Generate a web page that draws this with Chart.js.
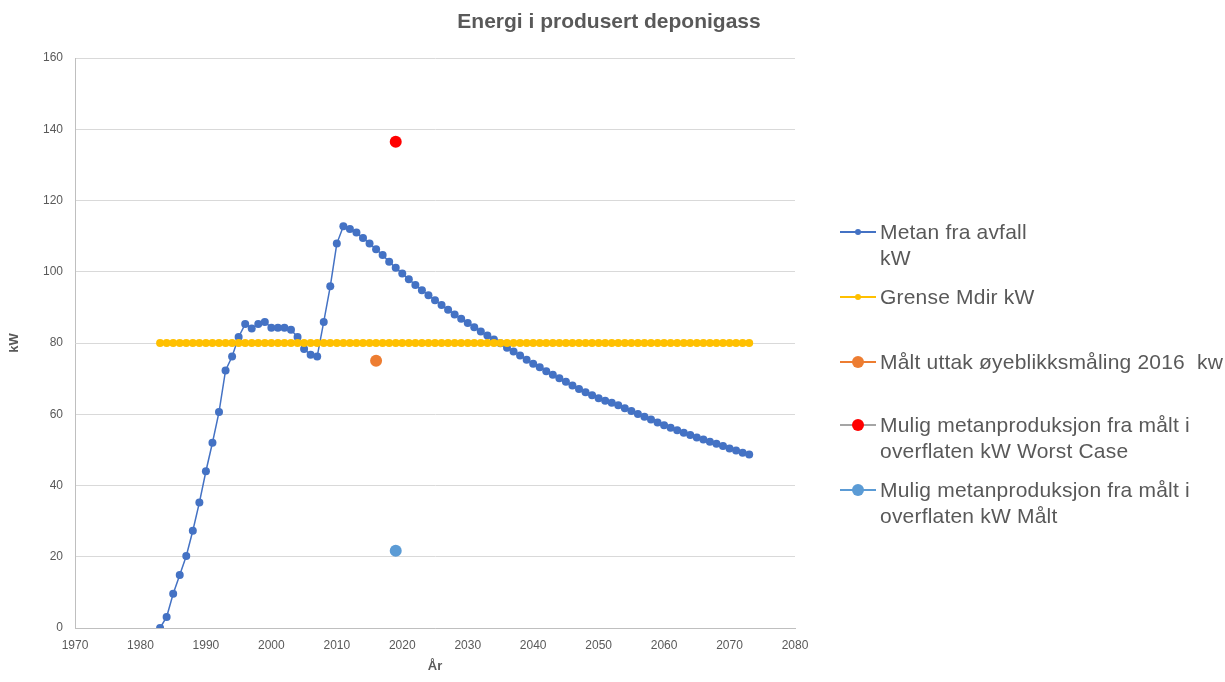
<!DOCTYPE html>
<html>
<head>
<meta charset="utf-8">
<script src="https://cdn.jsdelivr.net/npm/chart.js@4.4.0/dist/chart.umd.min.js"></script>
<style>
    body { margin: 0; background: #fff; }
    #wrap { position: relative; width: 1225px; height: 682px; font-family: 'Liberation Sans', Arial, sans-serif; }
    #title { position: absolute; top: 9px; left: 0; width: 1218px; text-align: center; font-size: 21px; font-weight: bold; color: #595959; }
    #legend { position: absolute; left: 0; top: 0; }
    .item { position: absolute; left: 840px; }
    .item .key { position: absolute; left: 0; top: 12px; width: 36px; height: 2px; }
    .item .dot { position: absolute; border-radius: 50%; }
    .item .txt { position: absolute; left: 40px; top: 0; white-space: pre; font-size: 21px; letter-spacing: 0.2px; line-height: 26px; color: #595959; }
</style>
</head>
<body>
<div id="wrap">
    <canvas id="chart" width="1225" height="682"></canvas>
    <div id="title">Energi i produsert deponigass</div>
    <div id="legend"></div>
</div>
<script>
// years with a value on the curve
const years = [
    1983, 1984, 1985, 1986, 1987, 1988, 1989, 1990, 1991, 1992, 1993, 1994, 1995, 1996, 1997, 1998, 1999,
    2000, 2001, 2002, 2003, 2004, 2005, 2006, 2007, 2008, 2009, 2010, 2011, 2012, 2013, 2014, 2015, 2016,
    2017, 2018, 2019, 2020, 2021, 2022, 2023, 2024, 2025, 2026, 2027, 2028, 2029, 2030, 2031, 2032, 2033,
    2034, 2035, 2036, 2037, 2038, 2039, 2040, 2041, 2042, 2043, 2044, 2045, 2046, 2047, 2048, 2049, 2050,
    2051, 2052, 2053, 2054, 2055, 2056, 2057, 2058, 2059, 2060, 2061, 2062, 2063, 2064, 2065, 2066, 2067,
    2068, 2069, 2070, 2071, 2072, 2073
];

const metanKw = [
    0, 3.1, 9.6, 14.9, 20.2, 27.3, 35.2, 44.0, 52.0, 60.6, 72.3, 76.2, 81.7, 85.3, 84.1, 85.3, 85.9,
    84.3, 84.3, 84.3, 83.7, 81.7, 78.3, 76.7, 76.2, 85.9, 95.9, 107.9, 112.8, 112.0, 111.0, 109.5, 107.9, 106.3,
    104.7, 102.8, 101.1, 99.5, 97.9, 96.3, 94.8, 93.4, 92.0, 90.7, 89.3, 88.0, 86.8, 85.6, 84.4, 83.2, 82.1,
    81.0, 79.9, 78.7, 77.6, 76.5, 75.3, 74.2, 73.2, 72.1, 71.1, 70.1, 69.1, 68.1, 67.1, 66.2, 65.3, 64.5,
    63.8, 63.2, 62.5, 61.7, 60.9, 60.1, 59.3, 58.5, 57.7, 56.9, 56.2, 55.5, 54.8, 54.2, 53.5, 52.9, 52.3,
    51.7, 51.1, 50.4, 49.8, 49.2, 48.7
];

const grenseKw = [
    80, 80, 80, 80, 80, 80, 80, 80, 80, 80, 80, 80, 80, 80, 80, 80, 80,
    80, 80, 80, 80, 80, 80, 80, 80, 80, 80, 80, 80, 80, 80, 80, 80, 80,
    80, 80, 80, 80, 80, 80, 80, 80, 80, 80, 80, 80, 80, 80, 80, 80, 80,
    80, 80, 80, 80, 80, 80, 80, 80, 80, 80, 80, 80, 80, 80, 80, 80, 80,
    80, 80, 80, 80, 80, 80, 80, 80, 80, 80, 80, 80, 80, 80, 80, 80, 80,
    80, 80, 80, 80, 80, 80
];

// single measurements
const maltUttak = { year: 2016, kw: 75.0 };
const worstCase = { year: 2019, kw: 136.5 };
const maltOverflate = { year: 2019, kw: 21.7 };

const labels = [
    'Metan fra avfall\nkW',
    'Grense Mdir kW',
    'Målt uttak øyeblikksmåling 2016  kw',
    'Mulig metanproduksjon fra målt i\noverflaten kW Worst Case',
    'Mulig metanproduksjon fra målt i\noverflaten kW Målt'
];

const xTicks = [1970, 1980, 1990, 2000, 2010, 2020, 2030, 2040, 2050, 2060, 2070, 2080];
const yTicks = [0, 20, 40, 60, 80, 100, 120, 140, 160];

const colors = ['#4472C4', '#FFC000', '#ED7D31', '#FF0000', '#5B9BD5'];
const keyLines = ['#4472C4', '#FFC000', '#ED7D31', '#A5A5A5', '#5B9BD5'];
const legendTop = [219, 284, 349, 412, 477];

const pts = (xs, ys) => xs.map((x, i) => ({ x: x, y: ys[i] }));

const ctx = document.getElementById('chart').getContext('2d');
new Chart(ctx, {
    type: 'line',
    data: {
        datasets: [
            { label: labels[0], data: pts(years, metanKw), borderColor: colors[0], backgroundColor: colors[0],
              borderWidth: 1.5, pointRadius: 4, pointBorderWidth: 0, order: 3 },
            { label: labels[1], data: pts(years, grenseKw), borderColor: colors[1], backgroundColor: colors[1],
              borderWidth: 1.5, pointRadius: 4, pointBorderWidth: 0, order: 2 },
            { label: labels[2], data: [{ x: maltUttak.year, y: maltUttak.kw }], borderColor: colors[2], backgroundColor: colors[2],
              pointRadius: 6, pointBorderWidth: 0, order: 1 },
            { label: labels[3], data: [{ x: worstCase.year, y: worstCase.kw }], borderColor: colors[3], backgroundColor: colors[3],
              pointRadius: 6, pointBorderWidth: 0, order: 1 },
            { label: labels[4], data: [{ x: maltOverflate.year, y: maltOverflate.kw }], borderColor: colors[4], backgroundColor: colors[4],
              pointRadius: 6, pointBorderWidth: 0, order: 1 }
        ]
    },
    options: {
        responsive: false,
        animation: false,
        layout: { padding: { left: 0, top: 58, right: 430, bottom: 0 } },
        plugins: { legend: { display: false }, tooltip: { enabled: false } },
        scales: {
            x: {
                type: 'linear', min: xTicks[0], max: xTicks[xTicks.length - 1],
                afterBuildTicks: s => { s.ticks = xTicks.map(v => ({ value: v })); },
                afterFit: s => { s.height = 54; },
                ticks: { color: '#595959', font: { family: 'Liberation Sans', size: 12 }, padding: 10, callback: v => String(v) },
                grid: { display: false, drawTicks: false },
                border: { color: '#BFBFBF' },
                title: { display: true, text: 'År', color: '#595959', font: { family: 'Liberation Sans', size: 13, weight: 'bold' }, padding: { top: 4, bottom: 8 } }
            },
            y: {
                min: yTicks[0], max: yTicks[yTicks.length - 1],
                afterBuildTicks: s => { s.ticks = yTicks.map(v => ({ value: v })); },
                afterFit: s => { s.width = 75; },
                ticks: { color: '#595959', font: { family: 'Liberation Sans', size: 12 }, padding: 12 },
                grid: { color: '#D9D9D9', drawTicks: false },
                border: { color: '#BFBFBF' },
                title: { display: true, text: 'kW', color: '#595959', font: { family: 'Liberation Sans', size: 13, weight: 'bold' }, padding: { top: 7, bottom: 4 } }
            }
        }
    }
});

// legend, laid out like the original
const legend = document.getElementById('legend');
labels.forEach((text, i) => {
    const r = i < 2 ? 3 : 6;
    legend.innerHTML += `
        <div class="item" style="top:${legendTop[i]}px">
            <div class="key" style="background:${keyLines[i]}"></div>
            <div class="dot" style="left:${18 - r}px; top:${13 - r}px; width:${2 * r}px; height:${2 * r}px; background:${colors[i]}"></div>
            <div class="txt">${text}</div>
        </div>
    `;
});
</script>
</body>
</html>
